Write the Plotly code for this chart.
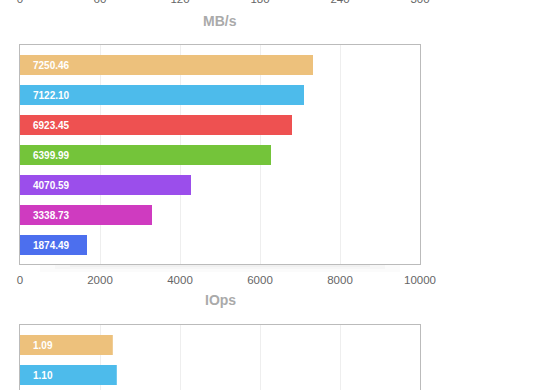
import plotly.graph_objects as go

# ---- data ----
categories = ["Config 1", "Config 2", "Config 3", "Config 4", "Config 5", "Config 6", "Config 7"]
bar_colors = ["#EDC17C", "#4DBBEB", "#EE5151", "#74C43A", "#9B4EEB", "#CF3BC0", "#4C6FEE"]

iops_values = [7325, 7100, 6800, 6275, 4275, 3300, 1675]
iops_labels = ["7250.46", "7122.10", "6923.45", "6399.99", "4070.59", "3338.73", "1874.49"]
iops_ticks = [0, 2000, 4000, 6000, 8000, 10000]

lat_categories = categories[:2]
lat_values = [1.16, 1.21]
lat_labels = ["1.09", "1.10"]
lat_ticks = [0, 1, 2, 3, 4, 5]

mbps_ticks = [0, 60, 120, 180, 240, 300]

W, H = 560, 390
FONT = "Liberation Sans, Arial, Helvetica, sans-serif"


def px_x(p):
    return p / W


def px_y(p):
    return 1 - p / H


x_dom = [px_x(20), px_x(420)]

fig = go.Figure()

# middle chart (IOps)
fig.add_trace(go.Bar(
    x=iops_values, y=categories, orientation="h",
    marker=dict(color=bar_colors, line=dict(width=0)),
    width=0.667, xaxis="x", yaxis="y", hoverinfo="skip",
))

# bottom chart (partially visible)
fig.add_trace(go.Bar(
    x=lat_values, y=lat_categories, orientation="h",
    marker=dict(color=bar_colors[:2], line=dict(width=0)),
    width=0.667, xaxis="x2", yaxis="y2", hoverinfo="skip",
))

# top chart axis (only its tick labels are visible)
fig.add_trace(go.Bar(x=[], y=[], orientation="h", xaxis="x3", yaxis="y3"))

annotations = []
for cat, lab in zip(categories, iops_labels):
    annotations.append(dict(
        x=0, y=cat, xref="x", yref="y", text=lab, showarrow=False,
        xanchor="left", yanchor="middle", xshift=11,
        font=dict(family=FONT, size=10, color="white", weight="bold"),
    ))
for cat, lab in zip(lat_categories, lat_labels):
    annotations.append(dict(
        x=0, y=cat, xref="x2", yref="y2", text=lab, showarrow=False,
        xanchor="left", yanchor="middle", xshift=11,
        font=dict(family=FONT, size=10, color="white", weight="bold"),
    ))
for txt, ypx in (("MB/s", 21), ("IOps", 300)):
    annotations.append(dict(
        x=px_x(220), y=px_y(ypx), xref="paper", yref="paper", text=txt,
        showarrow=False, xanchor="center", yanchor="middle",
        font=dict(family=FONT, size=14, color="#AAAAAA", weight="bold"),
    ))

# faint shadow below middle chart
shapes = []
for i, (y1, op) in enumerate(((272, 0.015), (269, 0.02), (267, 0.025))):
    shapes.append(dict(
        type="rect", xref="paper", yref="paper",
        x0=px_x(40 + i * 15), x1=px_x(400 - i * 15),
        y0=px_y(y1), y1=px_y(265),
        fillcolor=f"rgba(0,0,0,{op})", line=dict(width=0), layer="below",
    ))

tick_font = dict(family=FONT, size=11.5, color="#666666")
grid = "#EEEEEE"
border = "#BBBBBB"

fig.update_layout(
    width=W, height=H,
    margin=dict(l=0, r=0, t=0, b=0, autoexpand=False),
    paper_bgcolor="white", plot_bgcolor="white",
    showlegend=False,
    annotations=annotations,
    shapes=shapes,
    xaxis=dict(domain=x_dom, anchor="y", range=[0, 10000], tickvals=iops_ticks,
               tickformat="d", ticklabelstandoff=5,
               showgrid=True, gridcolor=grid, gridwidth=1, zeroline=False,
               showline=True, linecolor=border, linewidth=1, mirror=True,
               ticks="", tickfont=tick_font, fixedrange=True, automargin=False),
    yaxis=dict(domain=[px_y(264), px_y(45)], anchor="x", type="category",
               range=[6.633, -0.667], showticklabels=False, showgrid=False,
               zeroline=False, showline=True, linecolor=border, linewidth=1,
               mirror=True, ticks="", fixedrange=True, automargin=False),
    xaxis2=dict(domain=x_dom, anchor="y2", side="top", range=[0, 5], tickvals=lat_ticks,
                showticklabels=False, showgrid=True, gridcolor=grid, zeroline=False,
                showline=True, linecolor=border, linewidth=1, mirror=False,
                ticks="", fixedrange=True, automargin=False),
    yaxis2=dict(domain=[0, px_y(325)], anchor="x2", type="category",
                categoryarray=categories, categoryorder="array",
                range=[1.5, -0.667], showticklabels=False, showgrid=False,
                zeroline=False, showline=True, linecolor=border, linewidth=1,
                mirror=True, ticks="", fixedrange=True, automargin=False),
    xaxis3=dict(domain=x_dom, anchor="y3", side="bottom", range=[0, 300],
                tickvals=mbps_ticks, tickformat="d", showgrid=False, zeroline=False,
                showline=False, ticks="", tickfont=tick_font, ticklabelstandoff=-11,
                fixedrange=True, automargin=False),
    yaxis3=dict(domain=[0.995, 1.0], anchor="x3", visible=False, fixedrange=True),
)

fig.write_html(
    "out.html",
    config={"displayModeBar": False},
    post_script="document.body.style.margin='0';document.body.style.overflow='hidden';",
)
